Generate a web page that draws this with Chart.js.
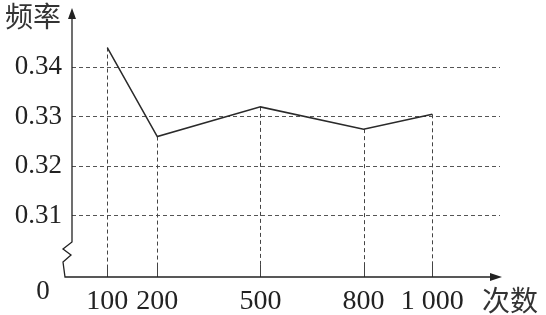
<!DOCTYPE html>
<html lang="zh">
<head>
<meta charset="utf-8">
<title>频率折线图</title>
<script src="https://cdn.jsdelivr.net/npm/chart.js@4.4.0/dist/chart.umd.min.js"></script>
<style>
    html, body { margin: 0; padding: 0; background: #fff; }
    #wrap { width: 546px; height: 315px; }
</style>
</head>
<body>
<div id="wrap"><canvas id="freqChart" width="546" height="315"></canvas></div>
<script>
// data
const trials = [100, 200, 500, 800, 1000];
const freq = [0.344, 0.326, 0.332, 0.3275, 0.3305];
const yTicks = [0.31, 0.32, 0.33, 0.34];

const serif = '"Liberation Serif", "DejaVu Serif", serif';
const cjk = '"Noto Sans CJK SC", sans-serif';

// linear axis whose stretch below `breakAt` is drawn wider, as in the textbook figure
class BrokenLinearScale extends Chart.LinearScale {
    getPixelForValue(value) {
        const b = this.options.breakAt;
        const k = this.options.lowStretch || 1;
        if (b === undefined || value >= b) {
            return super.getPixelForValue(value);
        }
        const pb = super.getPixelForValue(b);
        return pb - (pb - super.getPixelForValue(value)) * k;
    }
}
BrokenLinearScale.id = 'brokenLinear';
BrokenLinearScale.defaults = Chart.LinearScale.defaults;
Chart.register(BrokenLinearScale);

// axes with arrows, break mark on the y axis, corner labels, drop lines
const axesPlugin = {
    id: 'axesPlugin',
    beforeDatasetsDraw(chart) {
        const ctx = chart.ctx;
        const area = chart.chartArea;
        const meta = chart.getDatasetMeta(0);
        ctx.save();
        ctx.strokeStyle = '#444';
        ctx.lineWidth = 1;
        meta.data.forEach(pt => {
            const x = Math.round(pt.x) + 0.5;
            ctx.setLineDash([4, 3]);
            ctx.beginPath();
            ctx.moveTo(x, pt.y);
            ctx.lineTo(x, area.bottom - 12);
            ctx.stroke();
            ctx.setLineDash([]);
            ctx.beginPath();
            ctx.moveTo(x, area.bottom - 12);
            ctx.lineTo(x, area.bottom);
            ctx.stroke();
        });
        ctx.restore();
    },
    afterDraw(chart) {
        const ctx = chart.ctx;
        const L = chart.chartArea.left;
        const R = chart.chartArea.right;
        const T = chart.chartArea.top;
        const B = chart.chartArea.bottom;
        ctx.save();
        ctx.strokeStyle = '#222';
        ctx.fillStyle = '#222';
        ctx.lineWidth = 1.3;

        // y axis with the break zigzag near the bottom
        ctx.beginPath();
        ctx.moveTo(L, T + 4);
        ctx.lineTo(L, B - 35);
        ctx.lineTo(L - 9, B - 28);
        ctx.lineTo(L - 1, B - 22);
        ctx.lineTo(L - 9, B - 15);
        ctx.lineTo(L - 7, B);
        // x axis
        ctx.lineTo(R - 4, B);
        ctx.stroke();

        // arrow heads
        ctx.beginPath();
        ctx.moveTo(L, T);
        ctx.lineTo(L - 4, T + 11);
        ctx.lineTo(L + 4, T + 11);
        ctx.closePath();
        ctx.fill();
        ctx.beginPath();
        ctx.moveTo(R + 2, B);
        ctx.lineTo(R - 10, B - 4);
        ctx.lineTo(R - 10, B + 4);
        ctx.closePath();
        ctx.fill();

        // texts
        ctx.textAlign = 'center';
        ctx.textBaseline = 'middle';
        ctx.fillStyle = '#333';
        ctx.font = '28px ' + cjk;
        ctx.fillText('频率', 33, 16);
        ctx.fillText('次数', 510, 300);
        ctx.fillStyle = '#222';
        ctx.font = '27px ' + serif;
        ctx.fillText('0', 43, 292);
        ctx.restore();
    }
};

document.addEventListener('DOMContentLoaded', function() {
    const ctx = document.getElementById('freqChart').getContext('2d');
    new Chart(ctx, {
        type: 'line',
        data: {
            datasets: [{
                data: trials.map((t, i) => ({ x: t, y: freq[i] })),
                borderColor: '#2a2a2a',
                borderWidth: 1.5,
                pointRadius: 0,
                tension: 0,
                fill: false
            }]
        },
        options: {
            responsive: false,
            animation: false,
            layout: {
                padding: { top: 8, right: 46, left: 0, bottom: 0 }
            },
            plugins: {
                legend: { display: false },
                tooltip: { enabled: false }
            },
            scales: {
                x: {
                    type: 'brokenLinear',
                    min: -48.1,
                    max: 1196.9,
                    breakAt: 200,
                    lowStretch: 1.4545,
                    afterBuildTicks: scale => {
                        scale.ticks = trials.map(v => ({ value: v }));
                    },
                    afterFit: scale => {
                        scale.height = 38;
                        scale.paddingLeft = 0;
                        scale.paddingRight = 0;
                    },
                    grid: { display: false, drawTicks: false },
                    border: { display: false },
                    ticks: {
                        padding: 8,
                        color: '#222',
                        font: { family: serif, size: 28 },
                        maxRotation: 0,
                        autoSkip: false,
                        callback: v => v === 1000 ? '1 000' : String(v)
                    }
                },
                y: {
                    type: 'linear',
                    min: 0.2976,
                    max: 0.3520,
                    afterBuildTicks: scale => {
                        scale.ticks = yTicks.map(v => ({ value: v }));
                    },
                    afterFit: scale => {
                        scale.width = 72;
                        scale.paddingTop = 0;
                        scale.paddingBottom = 0;
                    },
                    grid: { color: '#555', lineWidth: 1, drawTicks: false },
                    border: { display: false, dash: [4, 3] },
                    ticks: {
                        padding: 10,
                        color: '#222',
                        font: { family: serif, size: 27 },
                        autoSkip: false,
                        callback: v => v.toFixed(2)
                    }
                }
            }
        },
        plugins: [axesPlugin]
    });
});
</script>
</body>
</html>
